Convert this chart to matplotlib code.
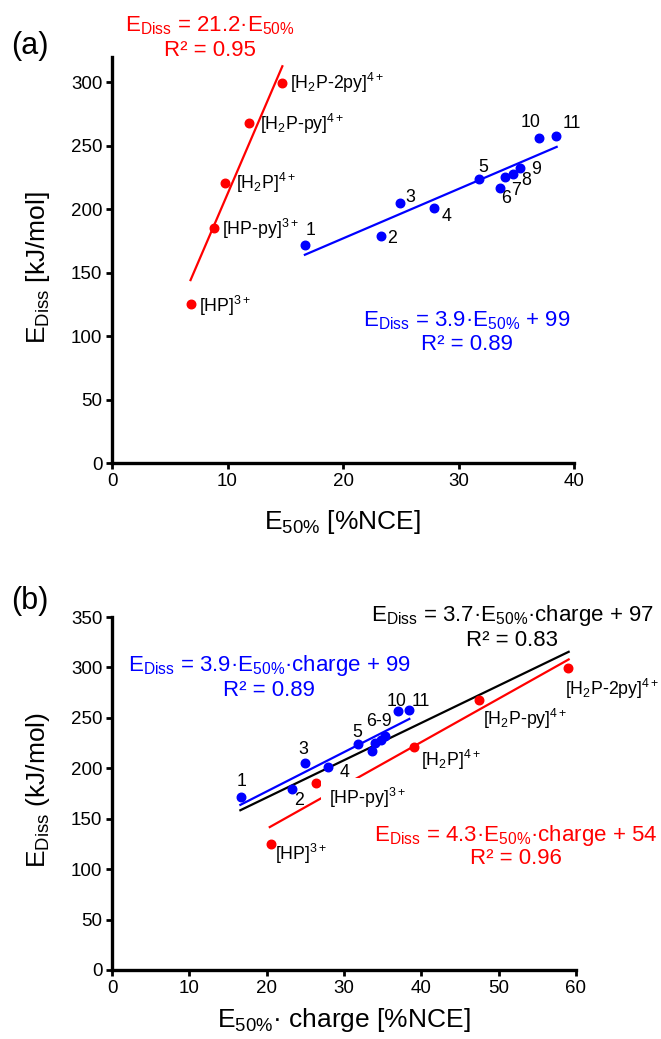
import matplotlib
matplotlib.use('Agg')
import matplotlib.pyplot as plt
import numpy as np

plt.rcParams['font.family'] = ['Liberation Sans', 'DejaVu Sans']
plt.rcParams['mathtext.fontset'] = 'custom'
plt.rcParams['mathtext.rm'] = 'Liberation Sans'
plt.rcParams['mathtext.it'] = 'Liberation Sans'
plt.rcParams['mathtext.default'] = 'regular'

# Blue series: numbered compounds 1-11
blue_ids = ['1', '2', '3', '4', '5', '6', '7', '8', '9', '10', '11']
blue_e50 = [16.7, 23.3, 24.9, 27.9, 31.75, 33.6, 34.05, 34.75, 35.35, 36.95, 38.45]
blue_ediss = [172, 179, 205, 201, 224, 217, 225.5, 228, 232.5, 256.5, 258]

# Red series: porphyrin ions
red_names = ['[HP]$^{3+}$', '[HP-py]$^{3+}$', '[H$_2$P]$^{4+}$',
             '[H$_2$P-py]$^{4+}$', '[H$_2$P-2py]$^{4+}$']
red_e50 = [6.85, 8.8, 9.75, 11.87, 14.73]
red_charge = [3, 3, 4, 4, 4]
red_ediss = [125, 185.5, 221, 268, 299.7]

# Linear fits (slope, intercept, x-range)
fit_a_red = (21.2, 0, [6.8, 14.75])
fit_a_blue = (3.9, 99, [16.7, 38.5])
fit_b_blue = (3.9, 99, [16.6, 38.45])
fit_b_black = (3.7, 97, [16.6, 59.05])
fit_b_red = (4.3, 54, [20.4, 59.05])

BLUE = '#0000ff'
RED = '#ff0000'
EQ_FS = 16
LAB_FS = 12.8
AX_FS = 19
TICK_FS = 13.5

W, H = 661, 1039
fig = plt.figure(figsize=(W / 100, H / 100), dpi=100)


def fpos(x, y):
    return x / W, 1 - y / H


def style_axes(ax):
    for s in ['top', 'right']:
        ax.spines[s].set_visible(False)
    for s in ['left', 'bottom']:
        ax.spines[s].set_linewidth(2.4)
    ax.tick_params(direction='out', length=4, width=2, labelsize=TICK_FS, pad=3)


def draw_fit(ax, fit, color):
    m, b, xr = fit
    xs = np.array(xr)
    ax.plot(xs, m * xs + b, color=color, lw=1.6, zorder=2)


# ---------- panel (a) ----------
ax1 = fig.add_axes([112 / W, 1 - 463 / H, 462 / W, 406 / H])
style_axes(ax1)
ax1.set_xlim(0, 40)
ax1.set_ylim(0, 320)
ax1.set_xticks([0, 10, 20, 30, 40])
ax1.set_yticks([0, 50, 100, 150, 200, 250, 300])

draw_fit(ax1, fit_a_red, RED)
draw_fit(ax1, fit_a_blue, BLUE)
ax1.scatter(red_e50, red_ediss, s=38, color=RED, zorder=3, clip_on=False)
ax1.scatter(blue_e50, blue_ediss, s=38, color=BLUE, zorder=3, clip_on=False)

blue_off_a = [(4, 10), (8, -2), (8, 4), (9, -6), (3, 8), (4, -8), (8, -10),
              (9, -5), (11, -1), (-6, 11), (11, 9)]
for lab, x, y, off in zip(blue_ids, blue_e50, blue_ediss, blue_off_a):
    ax1.annotate(lab, (x, y), xytext=off, textcoords='offset points',
                 ha='center', va='center', fontsize=LAB_FS)

red_off_a = [(6, -1), (6, -1), (8, 0), (8, -1), (6, 0)]
for lab, x, y, off in zip(red_names, red_e50, red_ediss, red_off_a):
    ax1.annotate(lab, (x, y), xytext=off, textcoords='offset points',
                 ha='left', va='center', fontsize=LAB_FS)

fig.text(*fpos(210, 26), 'E$_{Diss}$ = 21.2·E$_{50\\%}$', color=RED,
         ha='center', va='center', fontsize=EQ_FS)
fig.text(*fpos(210, 50), 'R² = 0.95', color=RED, ha='center', va='center', fontsize=EQ_FS)
fig.text(*fpos(467, 321), 'E$_{Diss}$ = 3.9·E$_{50\\%}$ + 99', color=BLUE,
         ha='center', va='center', fontsize=EQ_FS)
fig.text(*fpos(467, 345), 'R² = 0.89', color=BLUE, ha='center', va='center', fontsize=EQ_FS)

fig.text(*fpos(38, 268), 'E$_{Diss}$ [kJ/mol]', rotation=90, ha='center', va='center', fontsize=AX_FS)
fig.text(*fpos(342, 522), 'E$_{50\\%}$ [%NCE]', ha='center', va='center', fontsize=AX_FS)
fig.text(*fpos(30, 46), '(a)', ha='center', va='center', fontsize=22)

# ---------- panel (b) ----------
ax2 = fig.add_axes([112 / W, 1 - 970 / H, 464 / W, 353 / H])
style_axes(ax2)
ax2.set_xlim(0, 60)
ax2.set_ylim(0, 350)
ax2.set_xticks([0, 10, 20, 30, 40, 50, 60])
ax2.set_yticks([0, 50, 100, 150, 200, 250, 300, 350])

red_x_b = [e * c for e, c in zip(red_e50, red_charge)]

draw_fit(ax2, fit_b_red, RED)
draw_fit(ax2, fit_b_black, 'black')
draw_fit(ax2, fit_b_blue, BLUE)
ax2.scatter(red_x_b, red_ediss, s=38, color=RED, zorder=3, clip_on=False)
ax2.scatter(blue_e50, blue_ediss, s=38, color=BLUE, zorder=3, clip_on=False)

blue_lab_b = {0: (0, 11), 1: (5, -8), 2: (-1, 10), 3: (12, -4), 4: (0, 8),
              7: (-1, 13), 9: (-1, 7), 10: (8, 6)}
for i, off in blue_lab_b.items():
    lab = '6-9' if i == 7 else blue_ids[i]
    ax2.annotate(lab, (blue_e50[i], blue_ediss[i]), xytext=off,
                 textcoords='offset points', ha='center', va='center', fontsize=LAB_FS)

red_off_b = [(3, -7), (9, -11), (5, -9), (3, -14), (-2, -15)]
for i, (lab, x, y, off) in enumerate(zip(red_names, red_x_b, red_ediss, red_off_b)):
    kw = {}
    if i == 1:
        kw['bbox'] = dict(boxstyle='square,pad=0.45', fc='white', ec='none')
    ax2.annotate(lab, (x, y), xytext=off, textcoords='offset points',
                 ha='left', va='center', fontsize=LAB_FS, zorder=4, **kw)

fig.text(*fpos(512, 615), 'E$_{Diss}$ = 3.7·E$_{50\\%}$·charge + 97', color='black',
         ha='center', va='center', fontsize=EQ_FS)
fig.text(*fpos(512, 641), 'R² = 0.83', color='black', ha='center', va='center', fontsize=EQ_FS)
fig.text(*fpos(269, 666), 'E$_{Diss}$ = 3.9·E$_{50\\%}$·charge + 99', color=BLUE,
         ha='center', va='center', fontsize=EQ_FS)
fig.text(*fpos(269, 690), 'R² = 0.89', color=BLUE, ha='center', va='center', fontsize=EQ_FS)
fig.text(*fpos(516, 836), 'E$_{Diss}$ = 4.3·E$_{50\\%}$·charge + 54', color=RED,
         ha='center', va='center', fontsize=EQ_FS)
fig.text(*fpos(516, 859), 'R² = 0.96', color=RED, ha='center', va='center', fontsize=EQ_FS)

fig.text(*fpos(38, 790), 'E$_{Diss}$ (kJ/mol)', rotation=90, ha='center', va='center', fontsize=AX_FS)
fig.text(*fpos(344, 1020), 'E$_{50\\%}$· charge [%NCE]', ha='center', va='center', fontsize=AX_FS)
fig.text(*fpos(30, 601), '(b)', ha='center', va='center', fontsize=22)

fig.savefig('out.png', dpi=100)
